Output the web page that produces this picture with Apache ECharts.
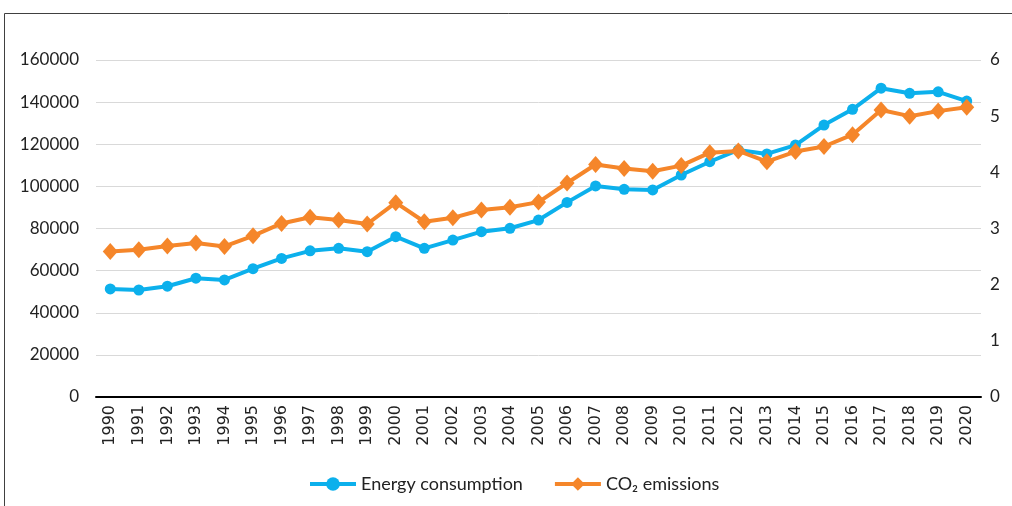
<!DOCTYPE html>
<html>
<head>
<meta charset="utf-8">
<script src="https://cdn.jsdelivr.net/npm/echarts@6/dist/echarts.min.js"></script>
<style>
html,body{margin:0;padding:0;background:#fff;}
#chart{width:1012px;height:506px;}
</style>
</head>
<body>
<div id="chart"></div>
<script>
const years = ['1990','1991','1992','1993','1994','1995','1996','1997','1998','1999','2000','2001','2002','2003','2004','2005','2006','2007','2008','2009','2010','2011','2012','2013','2014','2015','2016','2017','2018','2019','2020'];
const energyConsumption = [51300,50800,52600,56400,55600,60900,65800,69400,70600,69000,76100,70600,74500,78500,80100,84000,92400,100200,98600,98300,105400,111700,117300,115400,119600,129100,136600,146600,144200,144900,140500];
const co2Emissions = [2.59,2.62,2.69,2.74,2.68,2.87,3.09,3.20,3.15,3.08,3.46,3.12,3.19,3.33,3.38,3.47,3.81,4.14,4.07,4.02,4.12,4.35,4.38,4.19,4.37,4.46,4.67,5.11,5.00,5.09,5.16];
const leftTicks = {min:0, max:160000, interval:20000};
const rightTicks = {min:0, max:6, interval:1};
const seriesNames = ['Energy consumption','CO\u2082 emissions'];

const chart = echarts.init(document.getElementById('chart'), null, {renderer:'canvas'});
const font = 'Lato, "Noto Sans", sans-serif';
chart.setOption({
  animation:false,
  backgroundColor:'#fff',
  graphic:[{type:'rect', shape:{x:4.5,y:13.5,width:1100,height:600}, style:{fill:'none', stroke:'#404040', lineWidth:1}, silent:true}],
  grid:{left:96, right:31, top:60, bottom:109, containLabel:false},
  legend:{
    top:470, left:303, itemGap:30, itemWidth:46, itemHeight:17,
    textStyle:{fontFamily:font, fontSize:18, color:'#222', padding:[0,0,0,0]},
    lineStyle:{width:4},
    data:seriesNames
  },
  xAxis:{
    type:'category', data:years, boundaryGap:true,
    axisLine:{lineStyle:{color:'#000', width:2}},
    axisTick:{show:false},
    axisLabel:{rotate:90, margin:8, fontFamily:'"DejaVu Sans", sans-serif', fontSize:16, color:'#222', interval:0}
  },
  yAxis:[
    {type:'value', min:leftTicks.min, max:leftTicks.max, interval:leftTicks.interval,
     axisLine:{show:false}, axisTick:{show:false},
     axisLabel:{margin:17, fontFamily:font, fontSize:17, color:'#222', formatter:function(v){return String(v);}},
     splitLine:{lineStyle:{color:'#d9d9d9', width:1}}},
    {type:'value', min:rightTicks.min, max:rightTicks.max, interval:rightTicks.interval, position:'right',
     axisLine:{show:false}, axisTick:{show:false},
     axisLabel:{margin:9, fontFamily:font, fontSize:17, color:'#222'},
     splitLine:{show:false}}
  ],
  series:[
    {name:seriesNames[0], type:'line', yAxisIndex:0, data:energyConsumption,
     symbol:'circle', symbolSize:11, lineStyle:{width:4, color:'#0cb0ec'}, itemStyle:{color:'#0cb0ec'}, z:2},
    {name:seriesNames[1], type:'line', yAxisIndex:1, data:co2Emissions,
     symbol:'diamond', symbolSize:[15,17], lineStyle:{width:4, color:'#f5862a'}, itemStyle:{color:'#f5862a'}, z:3}
  ]
});
</script>
</body>
</html>
